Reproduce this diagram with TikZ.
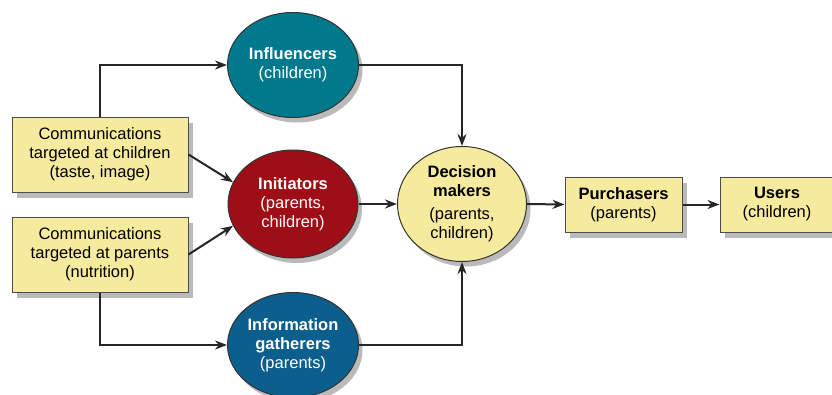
\documentclass[tikz,border=0pt]{standalone}
\usepackage{fontspec}
\setmainfont{Liberation Sans}
\usetikzlibrary{shapes.geometric,arrows.meta,shadows}
\definecolor{inflteal}{RGB}{0,121,140}
\definecolor{initred}{RGB}{158,14,22}
\definecolor{infoblue}{RGB}{12,94,140}
\definecolor{paleyellow}{RGB}{246,234,158}
\tikzset{
  role/.style={ellipse,draw=black!80,line width=1pt,align=center,inner sep=0pt,
    text=white,font=\fontsize{16.5}{19}\selectfont,
    drop shadow={shadow xshift=4pt,shadow yshift=-5pt,opacity=0.45,fill=black!60}},
  msgbox/.style={rectangle,draw=black!70,line width=1pt,fill=paleyellow,align=center,
    inner sep=0pt,font=\fontsize{16.5}{19}\selectfont,
    drop shadow={shadow xshift=5pt,shadow yshift=-6pt,opacity=0.45,fill=black!60}},
  arr/.style={-{Stealth[length=12pt,width=9pt]},line width=2pt,draw=black!85}
}
\begin{document}
\begin{tikzpicture}[x=1pt,y=-1pt]
\useasboundingbox (0,0) rectangle (832,394);
%Сообщения
\node[msgbox,minimum width=176pt,minimum height=75pt] (commc) at (100,154.5)
  {Communications\\targeted at children\\(taste, image)};
\node[msgbox,minimum width=176pt,minimum height=75pt] (commp) at (100,254.5)
  {Communications\\targeted at parents\\(nutrition)};
%Роли в семье
\node[role,fill=inflteal,minimum width=131pt,minimum height=105pt] (infl) at (293,65)
  {\textbf{Influencers}\\(children)};
\node[role,fill=initred,minimum width=130pt,minimum height=108pt] (init) at (293,204)
  {\textbf{Initiators}\\(parents,\\children)};
\node[role,fill=infoblue,minimum width=131pt,minimum height=105pt] (info) at (293,345)
  {\textbf{Information}\\\textbf{gatherers}\\(parents)};
\node[role,fill=paleyellow,text=black,minimum width=129pt,minimum height=115pt] (dec) at (462,204)
  {\textbf{Decision}\\\textbf{makers}\\[4pt](parents,\\children)};
%Покупка и использование
\node[msgbox,minimum width=117pt,minimum height=55pt] (purch) at (623.5,204.5)
  {\textbf{Purchasers}\\(parents)};
\node[msgbox,minimum width=114pt,minimum height=55pt] (users) at (777,204.5)
  {\textbf{Users}\\(children)};
%Стрелки
\draw[arr] (commc.north) |- (infl.west);
\draw[arr] (commp.south) |- (info.west);
\draw[arr] (commc.east) -- (init.160);
\draw[arr] (commp.east) -- (init.200);
\draw[arr] (init.east) -- (dec.west);
\draw[arr] (infl.east) -| (dec.north);
\draw[arr] (info.east) -| (dec.south);
\draw[arr] (dec.east) -- (purch.west);
\draw[arr] (purch.east) -- (users.west);
\end{tikzpicture}
\end{document}
